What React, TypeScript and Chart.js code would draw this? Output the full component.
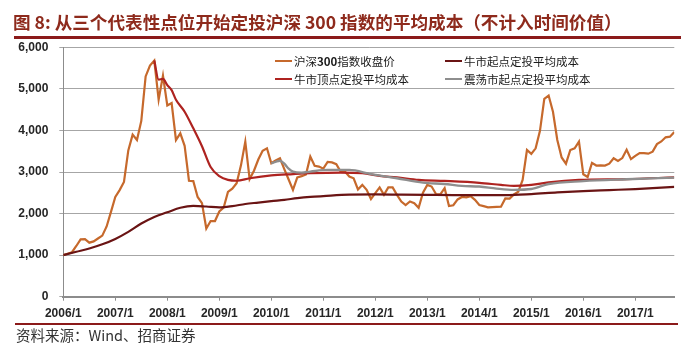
import React, { useEffect, useRef } from "react";
import { Chart, registerables } from "chart.js";

Chart.register(...registerables);

// ---------- data ----------
const yearLabels = [
  "2006/1", "2007/1", "2008/1", "2009/1", "2010/1", "2011/1",
  "2012/1", "2013/1", "2014/1", "2015/1", "2016/1", "2017/1",
];

// CSI 300 monthly close, 2006/1 .. 2017/10 (month index 0..141)
const csi300Close = [
  // 2006
  1000, 1035, 1070, 1220, 1380, 1385, 1300, 1330, 1400, 1470, 1690, 2040,
  // 2007
  2400, 2565, 2760, 3520, 3900, 3770, 4230, 5300, 5560, 5680, 4740, 5320,
  // 2008
  4600, 4660, 3770, 3930, 3630, 2790, 2780, 2400, 2250, 1640, 1820, 1820,
  // 2009
  2050, 2140, 2520, 2600, 2730, 3160, 3730, 2830, 3030, 3300, 3510, 3570,
  // 2010
  3210, 3280, 3330, 3070, 2820, 2570, 2870, 2900, 2940, 3370, 3150, 3130,
  // 2011
  3080, 3240, 3230, 3190, 3010, 3010, 2890, 2850, 2580, 2690, 2570, 2350,
  // 2012
  2490, 2630, 2450, 2630, 2630, 2450, 2290, 2205, 2290, 2250, 2140, 2500,
  // 2013
  2690, 2650, 2470, 2460, 2610, 2180, 2200, 2340, 2400, 2390, 2420, 2330,
  // 2014
  2205, 2180, 2150, 2155, 2160, 2165, 2365, 2360, 2460, 2525, 2810, 3530,
  // 2015
  3435, 3570, 3990, 4760, 4840, 4450, 3770, 3350, 3200, 3530, 3570, 3730,
  // 2016
  2945, 2880, 3220, 3155, 3160, 3155, 3200, 3330, 3265, 3335, 3535, 3310,
  // 2017
  3390, 3455, 3455, 3440, 3490, 3670, 3735, 3835, 3850, 3960,
];

// 牛市起点定投平均成本 (read at selected months)
const bullStartMonths = [0, 3, 6, 9, 12, 15, 18, 21, 24, 27, 30, 33, 36, 39, 42, 45, 48, 51, 54, 57, 60, 66, 72, 78, 84, 90, 96, 102, 108, 114, 120, 126, 132, 141];
const bullStartCost = [1000, 1080, 1160, 1260, 1390, 1560, 1760, 1920, 2030, 2140, 2185, 2170, 2150, 2180, 2230, 2265, 2300, 2330, 2370, 2400, 2420, 2455, 2460, 2455, 2450, 2445, 2445, 2445, 2470, 2510, 2540, 2565, 2590, 2640];

// 牛市顶点定投平均成本
const bullTopMonths = [21, 22, 23, 24, 25, 26, 28, 30, 32, 34, 36, 38, 40, 43, 48, 53, 57, 64, 69, 73, 77, 82, 88, 96, 101, 104, 108, 112, 119, 130, 141];
const bullTopCost = [5680, 5220, 5240, 5090, 4970, 4740, 4450, 4050, 3620, 3120, 2900, 2810, 2790, 2850, 2920, 2950, 2970, 2985, 2970, 2905, 2870, 2810, 2785, 2740, 2690, 2665, 2690, 2750, 2810, 2830, 2870];

// 震荡市起点定投平均成本
const rangeStartMonths = [48, 49, 50, 51, 52, 53, 55, 57, 61, 66, 71, 77, 83, 88, 92, 96, 100, 104, 108, 112, 120, 130, 141];
const rangeStartCost = [3210, 3245, 3270, 3200, 3080, 3010, 2985, 3010, 3050, 3050, 2950, 2850, 2745, 2710, 2665, 2650, 2600, 2570, 2590, 2710, 2780, 2825, 2865];

const seriesNames = ["沪深300指数收盘价", "牛市起点定投平均成本", "牛市顶点定投平均成本", "震荡市起点定投平均成本"];
const seriesColors = ["#C6692C", "#6A1414", "#AE2320", "#8E8E8E"];

const toPoints = (xs: number[], ys: number[]) => xs.map((x, k) => ({ x, y: ys[k] }));

export default function App() {
  const ref = useRef<HTMLCanvasElement | null>(null);

  useEffect(() => {
    if (!ref.current) return;
    const tickFont = { family: "'Liberation Sans', Arial, sans-serif", size: 12, weight: "bold" as const };
    const chart = new Chart(ref.current, {
      type: "line",
      data: {
        datasets: [
          {
            label: seriesNames[0],
            data: toPoints(csi300Close.map((_, i) => i), csi300Close),
            borderColor: seriesColors[0],
            borderWidth: 2.2,
            pointRadius: 0,
            tension: 0,
            order: 4,
          },
          {
            label: seriesNames[1],
            data: toPoints(bullStartMonths, bullStartCost),
            borderColor: seriesColors[1],
            borderWidth: 2.2,
            pointRadius: 0,
            cubicInterpolationMode: "monotone",
            order: 3,
          },
          {
            label: seriesNames[2],
            data: toPoints(bullTopMonths, bullTopCost),
            borderColor: seriesColors[2],
            borderWidth: 2.2,
            pointRadius: 0,
            cubicInterpolationMode: "monotone",
            order: 2,
          },
          {
            label: seriesNames[3],
            data: toPoints(rangeStartMonths, rangeStartCost),
            borderColor: seriesColors[3],
            borderWidth: 2.4,
            pointRadius: 0,
            cubicInterpolationMode: "monotone",
            order: 1,
          },
        ],
      },
      options: {
        animation: false,
        responsive: false,
        maintainAspectRatio: false,
        layout: { padding: { left: 0, right: 18.7, top: 47.3, bottom: 29.3 } },
        plugins: { legend: { display: false }, tooltip: { enabled: false }, title: { display: false } },
        scales: {
          x: {
            type: "linear",
            min: 0,
            max: csi300Close.length - 1,
            afterFit: (s: any) => { s.height = 30; },
            afterBuildTicks: (s: any) => {
              s.ticks = yearLabels.map((_, k) => ({ value: k * 12 }));
            },
            ticks: {
              autoSkip: false,
              maxRotation: 0,
              padding: 6,
              color: "#262626",
              font: tickFont,
              callback: (v: any) => yearLabels[Math.round(Number(v) / 12)] ?? "",
            },
            grid: { drawOnChartArea: false, drawTicks: true, tickLength: 4, color: "#8C8C8C", lineWidth: 1 },
            border: { display: true, color: "#8C8C8C", width: 2 },
          },
          y: {
            min: 0,
            max: 6000,
            afterFit: (s: any) => { s.width = 63.3; },
            ticks: {
              stepSize: 1000,
              padding: 11,
              color: "#262626",
              font: tickFont,
              callback: (v: any) => Number(v).toLocaleString("en-US"),
            },
            grid: { color: "#A6A6A6", lineWidth: 1, tickLength: 4, drawTicks: true },
            border: { display: true, color: "#8C8C8C", width: 1 },
          },
        },
      },
    });
    return () => chart.destroy();
  }, []);

  const legendItem = (k: number, left: number, top: number, text: React.ReactNode) => (
    <div key={k} style={{ position: "absolute", left, top, height: 16, display: "flex", alignItems: "center" }}>
      <div style={{ width: 17, height: 2, background: seriesColors[k], marginRight: 2 }} />
      <span style={{ fontFamily: "'Noto Sans CJK SC', sans-serif", fontSize: 11.5, color: "#1a1a1a", whiteSpace: "nowrap", lineHeight: "16px" }}>{text}</span>
    </div>
  );

  return (
    <div style={{ position: "fixed", left: 0, top: 0, width: 693, height: 356, background: "#fff", overflow: "hidden" }}>
      <canvas ref={ref} width={693} height={356} style={{ position: "absolute", left: 0, top: 0, width: 693, height: 356 }} />
      <div style={{ position: "absolute", left: 13, top: 10, fontFamily: "'Noto Sans CJK SC', sans-serif", fontWeight: 700, fontSize: 17.6, lineHeight: "24px", color: "#8E2A1C", whiteSpace: "nowrap" }}>
        图 8: 从三个代表性点位开始定投沪深 300 指数的平均成本（不计入时间价值）
      </div>
      <div style={{ position: "absolute", left: 14, top: 36, width: 667, height: 2.5, background: "#8B1A1A" }} />
      {legendItem(0, 275, 53, <>沪深<b>300</b>指数收盘价</>)}
      {legendItem(1, 445, 53, seriesNames[1])}
      {legendItem(2, 275, 71, seriesNames[2])}
      {legendItem(3, 445, 71, seriesNames[3])}
      <div style={{ position: "absolute", left: 15, top: 322.5, width: 663, height: 2, background: "#8B1A1A" }} />
      <div style={{ position: "absolute", left: 16, top: 326, fontFamily: "'Noto Sans CJK SC', sans-serif", fontSize: 14.5, lineHeight: "18px", color: "#333", whiteSpace: "nowrap" }}>
        资料来源：Wind、招商证券
      </div>
    </div>
  );
}
